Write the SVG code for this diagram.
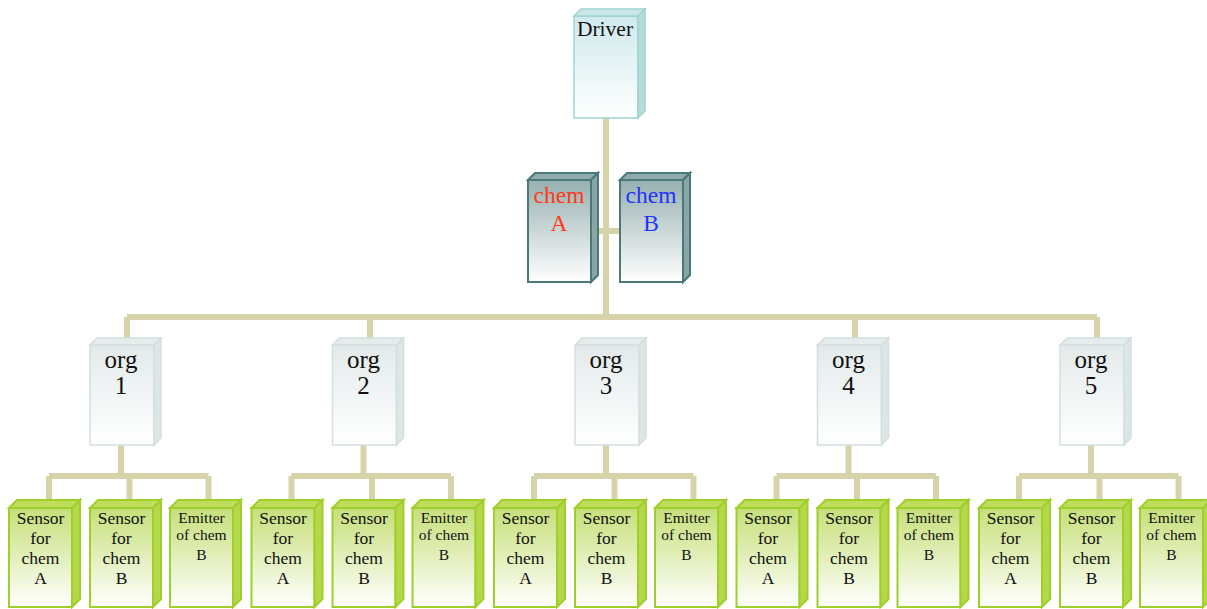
<svg xmlns="http://www.w3.org/2000/svg" width="1207" height="609" viewBox="0 0 1207 609">
<defs>
<linearGradient id="gDrv" x1="0" y1="0" x2="0" y2="1"><stop offset="0" stop-color="#cfe9ec"/><stop offset="1" stop-color="#ffffff"/></linearGradient>
<linearGradient id="gChem" x1="0" y1="0" x2="0" y2="1"><stop offset="0" stop-color="#97b0b0"/><stop offset="1" stop-color="#ffffff"/></linearGradient>
<linearGradient id="gOrg" x1="0" y1="0" x2="0" y2="1"><stop offset="0" stop-color="#e3eaea"/><stop offset="1" stop-color="#ffffff"/></linearGradient>
<linearGradient id="gLeaf" x1="0" y1="0" x2="0" y2="1"><stop offset="0" stop-color="#c6df78"/><stop offset="1" stop-color="#ffffff"/></linearGradient>
</defs>
<style>
.con{stroke:#d6d3a9;stroke-width:6;fill:none}
.drv .f{fill:url(#gDrv);stroke:#9fd4d4;stroke-width:1.5}
.drv .t{fill:#c9e7e8;stroke:#9fd4d4;stroke-width:1.5}
.drv .s{fill:#b9dada;stroke:#9fd4d4;stroke-width:1.5}
.chem .f{fill:url(#gChem);stroke:#4b7878;stroke-width:2}
.chem .t{fill:#8fabab;stroke:#4b7878;stroke-width:2}
.chem .s{fill:#88a6a6;stroke:#4b7878;stroke-width:2}
.org .f{fill:url(#gOrg);stroke:#d3dfdf;stroke-width:1.5}
.org .t{fill:#e4ecec;stroke:#d3dfdf;stroke-width:1.5}
.org .s{fill:#dde6e6;stroke:#d3dfdf;stroke-width:1.5}
.leaf .f{fill:url(#gLeaf);stroke:#9fcf2a;stroke-width:2}
.leaf .t{fill:#bedd5a;stroke:#9fcf2a;stroke-width:2}
.leaf .s{fill:#b4d84a;stroke:#9fcf2a;stroke-width:2}
text{font-family:"Liberation Serif","Times New Roman",serif;text-anchor:middle;fill:#111}
.tD{font-size:21.5px}
.tC{font-size:23.5px}
.tO{font-size:25px}
.tL{font-size:17.5px}
.tE{font-size:15.5px}
</style>

<g id="connectors">
<path class="con" d="M606,118 V317 M591,231 H620 M127,317 H1097 M127,317 V345 M370,317 V345 M855,317 V345 M1097,317 V345"/>
<path class="con" d="M121,445 V476 M49,476 H208.5 M49,476 V500 M129.5,476 V500 M208.5,476 V500"/>
<path class="con" d="M363.5,445 V476 M291.5,476 H451 M291.5,476 V500 M372,476 V500 M451,476 V500"/>
<path class="con" d="M606,445 V476 M534,476 H693.5 M534,476 V500 M614.5,476 V500 M693.5,476 V500"/>
<path class="con" d="M848.5,445 V476 M776.5,476 H936 M776.5,476 V500 M857,476 V500 M936,476 V500"/>
<path class="con" d="M1091,445 V476 M1019,476 H1178.5 M1019,476 V500 M1099.5,476 V500 M1178.5,476 V500"/>
</g>

<g id="driver" class="drv">
<rect class="f" x="574" y="16" width="64" height="102"/>
<path class="t" d="M574,16 L581,9 L645,9 L638,16 Z"/>
<path class="s" d="M638,16 L645,9 L645,111 L638,118 Z"/>
<text class="tD" x="605" y="36">Driver</text>
</g>

<g id="chemA" class="chem">
<rect class="f" x="528" y="180" width="63" height="102"/>
<path class="t" d="M528,180 L535,173 L598,173 L591,180 Z"/>
<path class="s" d="M591,180 L598,173 L598,275 L591,282 Z"/>
<text class="tC" x="559" y="203" style="fill:#ff3a1a">chem</text>
<text class="tC" x="559" y="231" style="fill:#ff3a1a">A</text>
</g>

<g id="chemB" class="chem">
<rect class="f" x="620" y="180" width="63" height="102"/>
<path class="t" d="M620,180 L627,173 L690,173 L683,180 Z"/>
<path class="s" d="M683,180 L690,173 L690,275 L683,282 Z"/>
<text class="tC" x="651" y="203" style="fill:#2233ff">chem</text>
<text class="tC" x="651" y="231" style="fill:#2233ff">B</text>
</g>

<g id="org1" class="org">
<rect class="f" x="90" y="345" width="64" height="100"/>
<path class="t" d="M90,345 L97,338 L161,338 L154,345 Z"/>
<path class="s" d="M154,345 L161,338 L161,438 L154,445 Z"/>
<text class="tO" x="121" y="368">org</text><text class="tO" x="121" y="394">1</text>
</g>
<g id="org2" class="org">
<rect class="f" x="332.5" y="345" width="64" height="100"/>
<path class="t" d="M332.5,345 L339.5,338 L403.5,338 L396.5,345 Z"/>
<path class="s" d="M396.5,345 L403.5,338 L403.5,438 L396.5,445 Z"/>
<text class="tO" x="363.5" y="368">org</text><text class="tO" x="363.5" y="394">2</text>
</g>
<g id="org3" class="org">
<rect class="f" x="575" y="345" width="64" height="100"/>
<path class="t" d="M575,345 L582,338 L646,338 L639,345 Z"/>
<path class="s" d="M639,345 L646,338 L646,438 L639,445 Z"/>
<text class="tO" x="606" y="368">org</text><text class="tO" x="606" y="394">3</text>
</g>
<g id="org4" class="org">
<rect class="f" x="817.5" y="345" width="64" height="100"/>
<path class="t" d="M817.5,345 L824.5,338 L888.5,338 L881.5,345 Z"/>
<path class="s" d="M881.5,345 L888.5,338 L888.5,438 L881.5,445 Z"/>
<text class="tO" x="848.5" y="368">org</text><text class="tO" x="848.5" y="394">4</text>
</g>
<g id="org5" class="org">
<rect class="f" x="1060" y="345" width="64" height="100"/>
<path class="t" d="M1060,345 L1067,338 L1131,338 L1124,345 Z"/>
<path class="s" d="M1124,345 L1131,338 L1131,438 L1124,445 Z"/>
<text class="tO" x="1091" y="368">org</text><text class="tO" x="1091" y="394">5</text>
</g>

<g id="sa1" class="leaf"><rect class="f" x="9" y="508" width="63" height="99"/><path class="t" d="M9,508 L17,500 L80,500 L72,508 Z"/><path class="s" d="M72,508 L80,500 L80,599 L72,607 Z"/>
<text class="tL" x="40.5" y="524">Sensor</text><text class="tL" x="40.5" y="544">for</text><text class="tL" x="40.5" y="564">chem</text><text class="tL" x="40.5" y="584">A</text></g>
<g id="sb1" class="leaf"><rect class="f" x="90" y="508" width="63" height="99"/><path class="t" d="M90,508 L98,500 L161,500 L153,508 Z"/><path class="s" d="M153,508 L161,500 L161,599 L153,607 Z"/>
<text class="tL" x="121.5" y="524">Sensor</text><text class="tL" x="121.5" y="544">for</text><text class="tL" x="121.5" y="564">chem</text><text class="tL" x="121.5" y="584">B</text></g>
<g id="eb1" class="leaf"><rect class="f" x="170" y="508" width="63" height="99"/><path class="t" d="M170,508 L178,500 L241,500 L233,508 Z"/><path class="s" d="M233,508 L241,500 L241,599 L233,607 Z"/>
<text class="tE" x="201.5" y="523">Emitter</text><text class="tE" x="201.5" y="540">of chem</text><text class="tE" x="201.5" y="560">B</text></g>

<g id="sa2" class="leaf"><rect class="f" x="251.5" y="508" width="63" height="99"/><path class="t" d="M251.5,508 L259.5,500 L322.5,500 L314.5,508 Z"/><path class="s" d="M314.5,508 L322.5,500 L322.5,599 L314.5,607 Z"/>
<text class="tL" x="283" y="524">Sensor</text><text class="tL" x="283" y="544">for</text><text class="tL" x="283" y="564">chem</text><text class="tL" x="283" y="584">A</text></g>
<g id="sb2" class="leaf"><rect class="f" x="332.5" y="508" width="63" height="99"/><path class="t" d="M332.5,508 L340.5,500 L403.5,500 L395.5,508 Z"/><path class="s" d="M395.5,508 L403.5,500 L403.5,599 L395.5,607 Z"/>
<text class="tL" x="364" y="524">Sensor</text><text class="tL" x="364" y="544">for</text><text class="tL" x="364" y="564">chem</text><text class="tL" x="364" y="584">B</text></g>
<g id="eb2" class="leaf"><rect class="f" x="412.5" y="508" width="63" height="99"/><path class="t" d="M412.5,508 L420.5,500 L483.5,500 L475.5,508 Z"/><path class="s" d="M475.5,508 L483.5,500 L483.5,599 L475.5,607 Z"/>
<text class="tE" x="444" y="523">Emitter</text><text class="tE" x="444" y="540">of chem</text><text class="tE" x="444" y="560">B</text></g>

<g id="sa3" class="leaf"><rect class="f" x="494" y="508" width="63" height="99"/><path class="t" d="M494,508 L502,500 L565,500 L557,508 Z"/><path class="s" d="M557,508 L565,500 L565,599 L557,607 Z"/>
<text class="tL" x="525.5" y="524">Sensor</text><text class="tL" x="525.5" y="544">for</text><text class="tL" x="525.5" y="564">chem</text><text class="tL" x="525.5" y="584">A</text></g>
<g id="sb3" class="leaf"><rect class="f" x="575" y="508" width="63" height="99"/><path class="t" d="M575,508 L583,500 L646,500 L638,508 Z"/><path class="s" d="M638,508 L646,500 L646,599 L638,607 Z"/>
<text class="tL" x="606.5" y="524">Sensor</text><text class="tL" x="606.5" y="544">for</text><text class="tL" x="606.5" y="564">chem</text><text class="tL" x="606.5" y="584">B</text></g>
<g id="eb3" class="leaf"><rect class="f" x="655" y="508" width="63" height="99"/><path class="t" d="M655,508 L663,500 L726,500 L718,508 Z"/><path class="s" d="M718,508 L726,500 L726,599 L718,607 Z"/>
<text class="tE" x="686.5" y="523">Emitter</text><text class="tE" x="686.5" y="540">of chem</text><text class="tE" x="686.5" y="560">B</text></g>

<g id="sa4" class="leaf"><rect class="f" x="736.5" y="508" width="63" height="99"/><path class="t" d="M736.5,508 L744.5,500 L807.5,500 L799.5,508 Z"/><path class="s" d="M799.5,508 L807.5,500 L807.5,599 L799.5,607 Z"/>
<text class="tL" x="768" y="524">Sensor</text><text class="tL" x="768" y="544">for</text><text class="tL" x="768" y="564">chem</text><text class="tL" x="768" y="584">A</text></g>
<g id="sb4" class="leaf"><rect class="f" x="817.5" y="508" width="63" height="99"/><path class="t" d="M817.5,508 L825.5,500 L888.5,500 L880.5,508 Z"/><path class="s" d="M880.5,508 L888.5,500 L888.5,599 L880.5,607 Z"/>
<text class="tL" x="849" y="524">Sensor</text><text class="tL" x="849" y="544">for</text><text class="tL" x="849" y="564">chem</text><text class="tL" x="849" y="584">B</text></g>
<g id="eb4" class="leaf"><rect class="f" x="897.5" y="508" width="63" height="99"/><path class="t" d="M897.5,508 L905.5,500 L968.5,500 L960.5,508 Z"/><path class="s" d="M960.5,508 L968.5,500 L968.5,599 L960.5,607 Z"/>
<text class="tE" x="929" y="523">Emitter</text><text class="tE" x="929" y="540">of chem</text><text class="tE" x="929" y="560">B</text></g>

<g id="sa5" class="leaf"><rect class="f" x="979" y="508" width="63" height="99"/><path class="t" d="M979,508 L987,500 L1050,500 L1042,508 Z"/><path class="s" d="M1042,508 L1050,500 L1050,599 L1042,607 Z"/>
<text class="tL" x="1010.5" y="524">Sensor</text><text class="tL" x="1010.5" y="544">for</text><text class="tL" x="1010.5" y="564">chem</text><text class="tL" x="1010.5" y="584">A</text></g>
<g id="sb5" class="leaf"><rect class="f" x="1060" y="508" width="63" height="99"/><path class="t" d="M1060,508 L1068,500 L1131,500 L1123,508 Z"/><path class="s" d="M1123,508 L1131,500 L1131,599 L1123,607 Z"/>
<text class="tL" x="1091.5" y="524">Sensor</text><text class="tL" x="1091.5" y="544">for</text><text class="tL" x="1091.5" y="564">chem</text><text class="tL" x="1091.5" y="584">B</text></g>
<g id="eb5" class="leaf"><rect class="f" x="1140" y="508" width="63" height="99"/><path class="t" d="M1140,508 L1148,500 L1211,500 L1203,508 Z"/><path class="s" d="M1203,508 L1211,500 L1211,599 L1203,607 Z"/>
<text class="tE" x="1171.5" y="523">Emitter</text><text class="tE" x="1171.5" y="540">of chem</text><text class="tE" x="1171.5" y="560">B</text></g>
</svg>
